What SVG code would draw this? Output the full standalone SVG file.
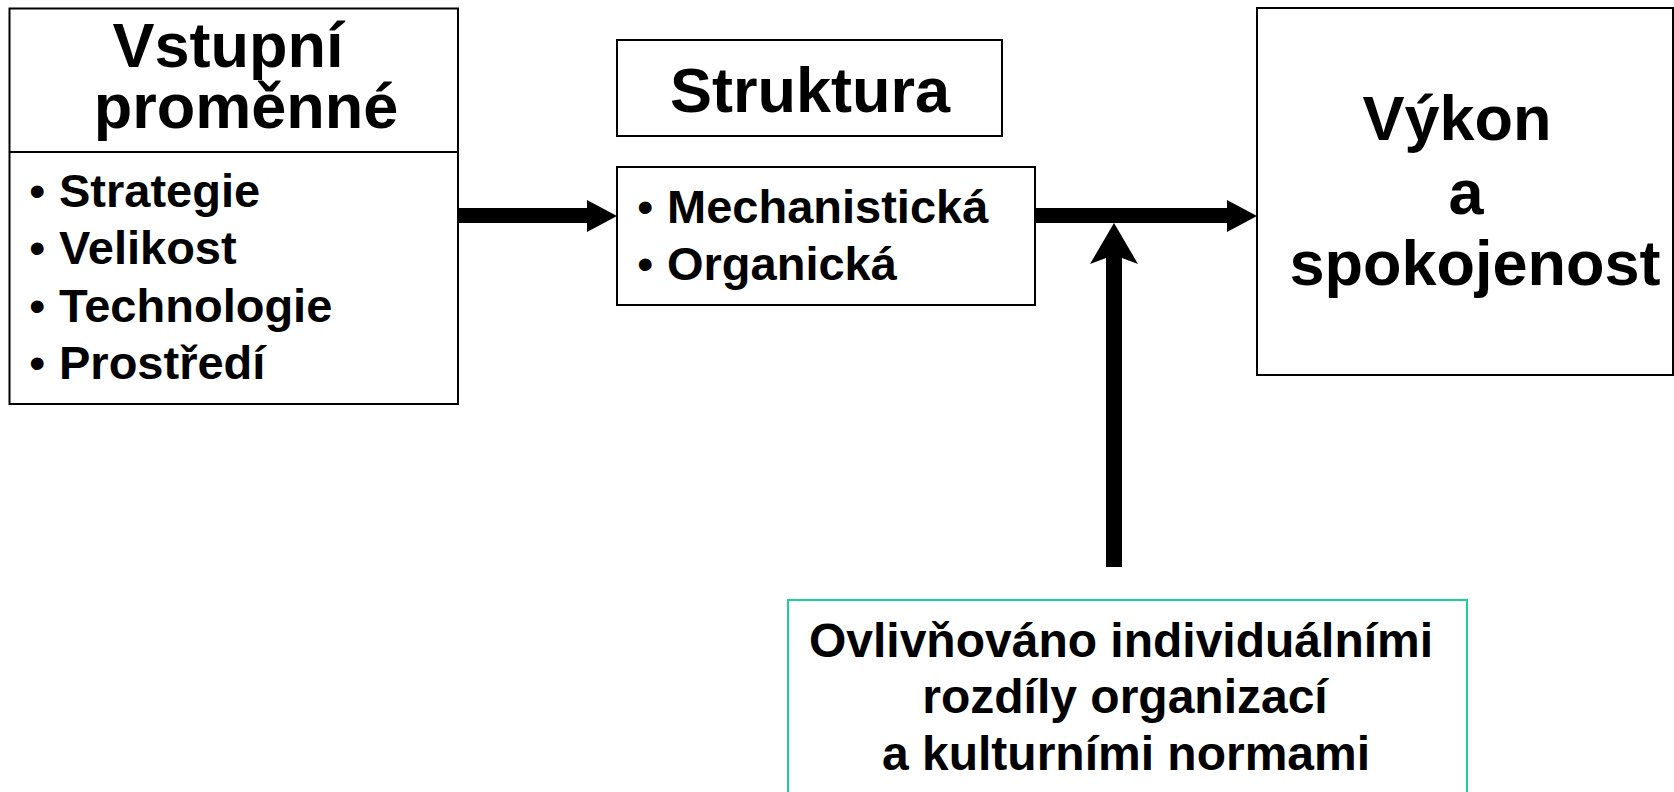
<svg xmlns="http://www.w3.org/2000/svg" width="1674" height="792" viewBox="0 0 1674 792">
  <style>
    .box { fill: #ffffff; stroke: #000000; stroke-width: 2; }
    .note { fill: #ffffff; stroke: #1fcc9b; stroke-width: 2; }
    .big { font-family: "Liberation Sans", Arial, sans-serif; font-weight: bold; font-size: 63px; fill: #000000; text-anchor: middle; }
    .item { font-family: "Liberation Sans", Arial, sans-serif; font-weight: bold; font-size: 47px; fill: #000000; }
    .dot { font-family: "Liberation Sans", Arial, sans-serif; font-weight: normal; font-size: 47px; fill: #000000; }
    .small { font-family: "Liberation Sans", Arial, sans-serif; font-weight: bold; font-size: 48px; fill: #000000; text-anchor: middle; }
    .arrow { fill: #000000; }
  </style>
  <rect width="1674" height="792" fill="#ffffff"/>

  <!-- input variables -->
  <g id="inputs">
    <rect class="box" x="9.5" y="8.5" width="448.5" height="395.5"/>
    <line x1="9.5" y1="152" x2="458" y2="152" stroke="#000000" stroke-width="2"/>
    <text class="big" x="228" y="67">Vstupní</text>
    <text class="big" x="246" y="128">proměnné</text>
    <text class="dot" x="29" y="207">•</text>
    <text class="item" x="59" y="207">Strategie</text>
    <text class="dot" x="29" y="264">•</text>
    <text class="item" x="59" y="264">Velikost</text>
    <text class="dot" x="29" y="322">•</text>
    <text class="item" x="59" y="322">Technologie</text>
    <text class="dot" x="29" y="379">•</text>
    <text class="item" x="59" y="379">Prostředí</text>
  </g>

  <!-- structure heading -->
  <g id="structure-title">
    <rect class="box" x="617" y="40" width="385" height="96"/>
    <text class="big" x="810" y="112">Struktura</text>
  </g>

  <!-- structure types -->
  <g id="structure-types">
    <rect class="box" x="617" y="167" width="418" height="138"/>
    <text class="dot" x="637" y="223">•</text>
    <text class="item" x="667" y="223">Mechanistická</text>
    <text class="dot" x="637" y="280">•</text>
    <text class="item" x="667" y="280">Organická</text>
  </g>

  <!-- outcome -->
  <g id="outcome">
    <rect class="box" x="1257" y="8" width="416" height="367"/>
    <text class="big" x="1457" y="140">Výkon</text>
    <text class="big" x="1466" y="214">a</text>
    <text class="big" x="1475" y="285">spokojenost</text>
  </g>

  <!-- moderating factors -->
  <g id="moderators">
    <rect class="note" x="788" y="600" width="679" height="210"/>
    <text class="small" x="1121" y="657">Ovlivňováno individuálními</text>
    <text class="small" x="1125" y="713">rozdíly organizací</text>
    <text class="small" x="1126" y="770">a kulturními normami</text>
  </g>

  <!-- connectors -->
  <g id="connectors">
    <path class="arrow" d="M458 208 H587 V200 L617 216 L587 232 V223 H458 Z"/>
    <path class="arrow" d="M1035 208 H1227 V200 L1257 216 L1227 232 V223 H1035 Z"/>
    <path class="arrow" d="M1106 567 V258 L1090 264 L1114 223 L1138 264 L1122 258 V567 Z"/>
  </g>
</svg>
